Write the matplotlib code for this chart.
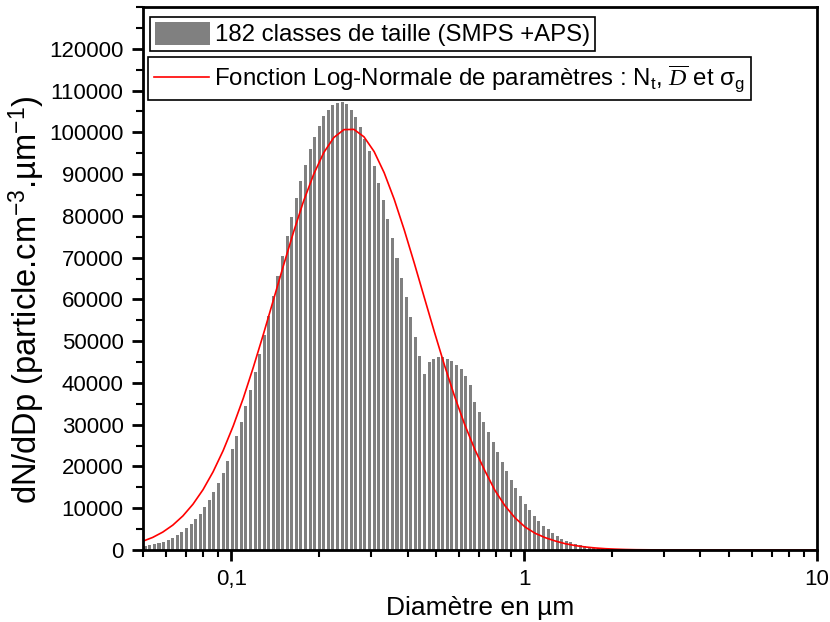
import numpy as np
import matplotlib
matplotlib.use("Agg")
import matplotlib.pyplot as plt
from matplotlib.ticker import FixedLocator, FuncFormatter, LogLocator, MultipleLocator, NullFormatter
from matplotlib.patches import Patch
from matplotlib.lines import Line2D

plt.rcParams['font.family'] = ['Liberation Sans', 'DejaVu Sans']
plt.rcParams['mathtext.fontset'] = 'custom'
plt.rcParams['mathtext.rm'] = 'Liberation Sans'
plt.rcParams['mathtext.it'] = 'Liberation Serif:italic'

# Size classes: first channel diameter (µm) and channels per decade
D_START = 0.0509
CHANNELS_PER_DECADE = 64

# dN/dDp per class
dndp = [890, 1120, 1360, 1670, 1990, 2460, 2940, 3580, 4210, 5170,
        6200, 7320, 8660, 10180, 11910, 13840, 16080, 18430, 21200, 24130,
        27280, 30740, 34410, 38380, 42650, 46930, 51510, 56090, 60770, 65660,
        70340, 75130, 79710, 84190, 88360, 92230, 95890, 98950, 101600, 103840,
        105360, 106580, 107090, 107200, 106790, 105360, 103630, 101390, 98340, 95490,
        91820, 87960, 83780, 79300, 74720, 69940, 65150, 60470, 55680, 51100,
        46420, 42150, 44890, 45710, 46120, 46120, 45810, 45200, 44380, 43270,
        41640, 39600, 35530, 33090, 30740, 28300, 25960, 23410, 21170, 18930,
        16700, 14760, 12930, 11100, 9570, 8140, 7020, 5850, 4990, 4170,
        3460, 2750, 2240, 1830, 1430, 1120, 890, 710, 550, 480,
        410, 340, 280, 220, 170, 130, 100, 80, 60, 40, 30]

# Log-normal curve (Nt, D, sigma_g)
fit_d = [0.04983, 0.05395, 0.05839, 0.06321, 0.06842, 0.07405, 0.08014, 0.08673, 0.09386, 0.1016,
         0.1100, 0.1190, 0.1288, 0.1394, 0.1509, 0.1633, 0.1767, 0.1913, 0.2070, 0.2241,
         0.2425, 0.2625, 0.2841, 0.3076, 0.3329, 0.3603, 0.3899, 0.4220, 0.4567, 0.4944,
         0.5351, 0.5791, 0.6268, 0.6784, 0.7345, 0.7948, 0.8603, 0.9313, 1.008, 1.091,
         1.181, 1.278, 1.383, 1.497, 1.620, 1.754, 1.898, 2.054, 2.224, 2.407,
         3.05, 5.0, 10.0]
fit_v = [2080, 3010, 4280, 5960, 8160, 10960, 14440, 18710, 23780, 29680,
         36350, 43730, 51640, 59870, 68150, 76140, 83540, 89960, 95130, 98750,
         100640, 100700, 98910, 95390, 90320, 83950, 76610, 68630, 60370, 52130,
         44190, 36790, 30060, 24120, 18990, 14300, 10600, 7700, 5500, 4000,
         2950, 2150, 1500, 1050, 720, 480, 310, 200, 120, 70,
         10, 0, 0]

idx = np.arange(len(dndp))
d_center = D_START * 10 ** (idx / CHANNELS_PER_DECADE)
half = 0.33 / CHANNELS_PER_DECADE
lefts = d_center * 10 ** (-half)
widths = d_center * 10 ** half - lefts

fig = plt.figure(figsize=(8.3, 6.22), dpi=100)
ax = fig.add_axes([143 / 830, 72 / 622, 674 / 830, 543 / 622])

ax.bar(lefts, dndp, width=widths, align='edge', color='#808080', linewidth=0)
ax.plot(fit_d, fit_v, color='red', linewidth=1.2)

ax.set_xscale('log')
ax.set_xlim(0.05, 10)
ax.set_ylim(0, 130000)

def x_fmt(x, pos):
    return f"{x:g}".replace('.', ',')

ax.xaxis.set_major_locator(FixedLocator([0.1, 1, 10]))
ax.xaxis.set_major_formatter(FuncFormatter(x_fmt))
ax.xaxis.set_minor_locator(LogLocator(base=10, subs=np.arange(2, 10)))
ax.xaxis.set_minor_formatter(NullFormatter())
ax.yaxis.set_major_locator(FixedLocator(np.arange(0, 120001, 10000)))
ax.yaxis.set_minor_locator(MultipleLocator(5000))

for s in ax.spines.values():
    s.set_linewidth(2)
ax.tick_params(which='major', direction='out', length=8, width=2, labelsize=16, pad=6)
ax.tick_params(which='minor', direction='out', length=5, width=1.5)
ax.tick_params(top=False, right=False, which='both')

ax.set_xlabel("Diamètre en µm", fontsize=19, labelpad=4)
ax.set_ylabel("dN/dDp (particle.cm$^{-3}$.µm$^{-1}$)", fontsize=23.5)
ax.yaxis.set_label_coords(-0.143, 0.46)

h1 = Patch(facecolor='#808080', edgecolor='none')
leg1 = ax.legend([h1], ["182 classes de taille (SMPS +APS)"], loc='upper left',
                 bbox_to_anchor=(0.0104, 0.9816), borderaxespad=0, fontsize=17.3,
                 fancybox=False, edgecolor='black', framealpha=1,
                 handlelength=2.3, handleheight=1.1, handletextpad=0.2, borderpad=0.2)
leg1.get_frame().set_linewidth(1.2)
ax.add_artist(leg1)

h2 = Line2D([], [], color='red', linewidth=1.2)
leg2 = ax.legend([h2], [r"Fonction Log-Normale de paramètres : N$_\mathrm{t}$, $\overline{D}$ et σ$_\mathrm{g}$"],
                 loc='upper left', bbox_to_anchor=(0.0074, 0.908), borderaxespad=0, fontsize=17.3,
                 fancybox=False, edgecolor='black', framealpha=1,
                 handlelength=2.3, handletextpad=0.2, borderpad=0.25)
leg2.get_frame().set_linewidth(1.2)

fig.savefig("out.png", dpi=100)
